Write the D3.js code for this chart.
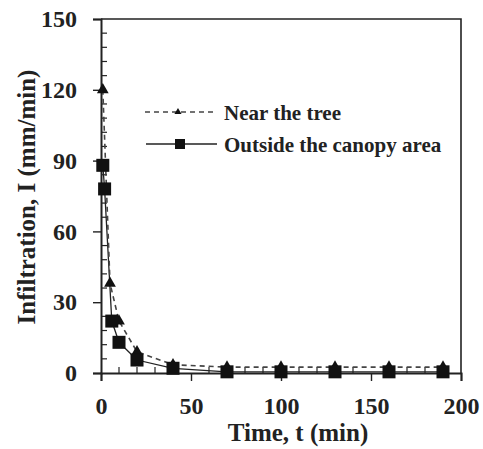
<!DOCTYPE html>
<html>
<head>
<meta charset="utf-8">
<script src="https://cdn.jsdelivr.net/npm/d3@7"></script>
<style>
  body { margin: 0; background: #fff; }
  text { font-family: "Liberation Serif", "Times New Roman", serif; font-weight: bold; fill: #222; }
</style>
</head>
<body>
<div id="chart"></div>
<script>
// series (time in min, infiltration in mm/min)
var nearTime = [1, 5, 10, 20, 40, 70, 100, 130, 160, 190];
var nearVal  = [120, 38, 22, 9, 3.5, 2.5, 2.5, 2.5, 2.5, 2.5];
var outTime  = [1, 2, 6, 10, 20, 40, 70, 100, 130, 160, 190];
var outVal   = [88, 78, 22, 13, 5.5, 2, 0.5, 0.5, 0.5, 0.5, 0.5];
var xTicks = [0, 50, 100, 150, 200];
var yTicks = [0, 30, 60, 90, 120, 150];
var legendNames = ["Near the tree", "Outside the canopy area"];

var W = 483, H = 449;
var m = {left: 101, right: 22, top: 19, bottom: 76};

var svg = d3.select("#chart").append("svg")
  .attr("width", W).attr("height", H);

var x = d3.scaleLinear().domain([0, 200]).range([m.left, W - m.right]);
var y = d3.scaleLinear().domain([0, 150]).range([H - m.bottom, m.top]);

// frame (top and right)
svg.append("path")
  .attr("d", "M" + x(0) + "," + y(150) + "H" + x(200) + "V" + y(0))
  .attr("fill", "none").attr("stroke", "#222").attr("stroke-width", 1.6);

// minor ticks pointing inward
var g = svg.append("g").attr("stroke", "#222").attr("stroke-width", 1.2);
d3.range(0, 201, 10).forEach(function(v) {
  if (v % 50 === 0) return;
  g.append("line").attr("x1", x(v)).attr("x2", x(v)).attr("y1", y(0)).attr("y2", y(0) - 6);
});
d3.range(0, 151, 6).forEach(function(v) {
  if (v % 30 === 0) return;
  g.append("line").attr("x1", x(0)).attr("x2", x(0) + 6).attr("y1", y(v)).attr("y2", y(v));
});

// axes with outward major ticks
var xAxis = svg.append("g").attr("transform", "translate(0," + y(0) + ")")
  .call(d3.axisBottom(x).tickValues(xTicks).tickSize(8).tickPadding(16));
var yAxis = svg.append("g").attr("transform", "translate(" + x(0) + ",0)")
  .call(d3.axisLeft(y).tickValues(yTicks).tickSize(8).tickPadding(16));
[xAxis, yAxis].forEach(function(a) {
  a.select(".domain").attr("stroke", "#222").attr("stroke-width", 2);
  a.selectAll(".tick line").attr("stroke", "#222").attr("stroke-width", 1.4);
  a.selectAll(".tick text").style("font-size", "24px")
    .style("font-family", "Liberation Serif").style("font-weight", "bold").attr("fill", "#222");
});

// lines
var near = nearTime.map(function(t, i) { return [t, nearVal[i]]; });
var out = outTime.map(function(t, i) { return [t, outVal[i]]; });
var line = d3.line().x(function(d) { return x(d[0]); }).y(function(d) { return y(d[1]); });

svg.append("path").datum(out).attr("d", line)
  .attr("fill", "none").attr("stroke", "#222").attr("stroke-width", 1.3);
svg.append("path").datum(near).attr("d", line)
  .attr("fill", "none").attr("stroke", "#444").attr("stroke-width", 1.6)
  .attr("stroke-dasharray", "5,4");

var tri = d3.symbol().type(d3.symbolTriangle).size(60);
svg.append("g").selectAll("path").data(near).join("path")
  .attr("d", tri)
  .attr("transform", function(d) { return "translate(" + x(d[0]) + "," + y(d[1]) + ")"; })
  .attr("fill", "#111");

svg.append("g").selectAll("rect").data(out).join("rect")
  .attr("x", function(d) { return x(d[0]) - 6.5; })
  .attr("y", function(d) { return y(d[1]) - 6.5; })
  .attr("width", 13).attr("height", 13)
  .attr("fill", "#111");

// legend
var lg = svg.append("g");
lg.append("line").attr("x1", 145).attr("x2", 213).attr("y1", 112).attr("y2", 112)
  .attr("stroke", "#444").attr("stroke-width", 1.6).attr("stroke-dasharray", "5,4");
lg.append("path").attr("d", d3.symbol().type(d3.symbolTriangle).size(22)())
  .attr("transform", "translate(178,112)").attr("fill", "#111");
lg.append("line").attr("x1", 146).attr("x2", 217).attr("y1", 144).attr("y2", 144)
  .attr("stroke", "#222").attr("stroke-width", 1.3);
lg.append("rect").attr("x", 175).attr("y", 139).attr("width", 10).attr("height", 10).attr("fill", "#111");
lg.append("text").attr("x", 224).attr("y", 120).style("font-size", "21px").text(legendNames[0]);
lg.append("text").attr("x", 224).attr("y", 152).style("font-size", "21px").text(legendNames[1]);

// axis titles
svg.append("text").attr("x", 298).attr("y", 441).attr("text-anchor", "middle")
  .style("font-size", "25px").text("Time, t (min)");
svg.append("text").attr("transform", "translate(35,197) rotate(-90)")
  .attr("text-anchor", "middle").style("font-size", "25px").text("Infiltration, I (mm/min)");
</script>
</body>
</html>
